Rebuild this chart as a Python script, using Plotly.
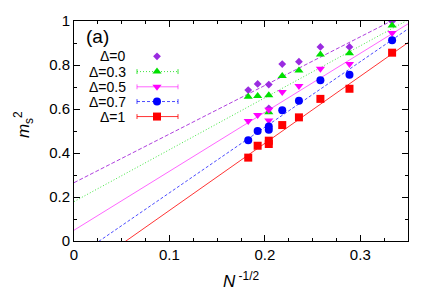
import plotly.graph_objects as go
import numpy as np

# ---- data ----
N_sizes = [30, 27, 24, 24, 21, 18, 15, 12, 9]
delta_labels = ["Δ=0", "Δ=0.3", "Δ=0.5", "Δ=0.7", "Δ=1"]
ms2_d0 = [0.686, 0.714, 0.711, 0.603, 0.804, 0.815, 0.882, 0.882, 0.999]
ms2_d03 = [0.656, 0.659, 0.662, 0.585, 0.750, 0.775, 0.848, 0.853, 0.979]
ms2_d05 = [0.545, 0.573, 0.548, 0.597, 0.677, 0.704, 0.783, 0.804, 0.945]
ms2_d07 = [0.458, 0.500, 0.521, 0.506, 0.594, 0.638, 0.731, 0.756, 0.912]
ms2_d1 = [0.379, 0.433, 0.456, 0.441, 0.527, 0.562, 0.646, 0.692, 0.856]
fit_intercepts = [0.265, 0.179, 0.049, -0.079, -0.166]
fit_slopes = [2.21, 2.36, 2.68, 2.98, 3.05]
x_ticks = [0, 0.1, 0.2, 0.3]
y_ticks = [0, 0.2, 0.4, 0.6, 0.8, 1]

series = [ms2_d0, ms2_d03, ms2_d05, ms2_d07, ms2_d1]
colors = ["#9a2be0", "#00e000", "#ff00ff", "#0000ff", "#ff0000"]
line_colors = ["rgba(148,0,211,0.75)", "rgba(0,220,0,0.75)", "rgba(255,0,255,0.6)",
               "rgba(0,0,255,0.7)", "rgba(255,0,0,0.8)"]
symbols = ["diamond", "triangle-up", "triangle-down", "circle", "square"]
msizes = [6, 8, 8, 8, 8]
dashes = ["4px,2px", "1px,2px", "solid", "3px,2px", "solid"]

xv = np.array(N_sizes, dtype=float) ** -0.5
xfit = np.array([0.0, 0.35])

FONT = "Liberation Sans, Arial, sans-serif"
fig = go.Figure()

for i in range(5):
    fig.add_trace(go.Scatter(
        x=xfit, y=fit_intercepts[i] + fit_slopes[i] * xfit, mode="lines",
        line=dict(color=line_colors[i], width=1, dash=dashes[i]),
        showlegend=False, hoverinfo="skip"))
for i in range(5):
    fig.add_trace(go.Scatter(
        x=xv, y=series[i], mode="markers",
        marker=dict(symbol=symbols[i], size=msizes[i], color=colors[i],
                    line=dict(width=0)),
        showlegend=False))

# ---- hand-made legend (text right-aligned, sample to the right) ----
L, R, T, B = 74, 408, 17, 241
W, H = R - L, B - T
def px(x): return (x - L) / W
def py(y): return (B - y) / H

row_y = [53, 68.5, 84, 99, 114.3]
shapes = []
annotations = []
for i in range(5):
    yy = py(row_y[i])
    annotations.append(dict(x=px(128), y=yy, xref="paper", yref="paper",
                            text=delta_labels[i], showarrow=False,
                            xanchor="right", yanchor="middle",
                            font=dict(family=FONT, size=14, color="black")))
    if i > 0:
        shapes.append(dict(type="line", xref="paper", yref="paper",
                           x0=px(137), x1=px(178), y0=yy, y1=yy,
                           line=dict(color=line_colors[i], width=1, dash=dashes[i])))
        for xc in (137, 178):
            shapes.append(dict(type="line", xref="paper", yref="paper",
                               x0=px(xc), x1=px(xc), y0=yy - 2.5 / H, y1=yy + 2.5 / H,
                               line=dict(color=line_colors[i], width=1)))
    fig.add_trace(go.Scatter(
        x=[px(157)], y=[yy], xaxis="x2", yaxis="y2", mode="markers",
        marker=dict(symbol=symbols[i], size=msizes[i], color=colors[i], line=dict(width=0)),
        showlegend=False, hoverinfo="skip"))

annotations.append(dict(x=px(84), y=py(33), xref="paper", yref="paper", text="(a)",
                        showarrow=False, xanchor="left", yanchor="middle",
                        font=dict(family=FONT, size=19, color="black")))
annotations.append(dict(x=px(241), y=(B - 281) / H, xref="paper", yref="paper",
                        text="<i>N</i><sup> -1/2</sup>", showarrow=False,
                        xanchor="center", yanchor="middle",
                        font=dict(family=FONT, size=17, color="black")))
annotations.append(dict(x=(23 - L) / W, y=py(123), xref="paper", yref="paper",
                        text="<i>m</i><sub>s</sub><sup>2</sup>", showarrow=False,
                        textangle=-90, xanchor="center", yanchor="middle",
                        font=dict(family=FONT, size=17, color="black")))

axis_common = dict(showgrid=False, zeroline=False, showline=True, linecolor="black",
                   linewidth=1, mirror="ticks", ticks="inside", ticklen=6,
                   tickcolor="black", tickwidth=1,
                   tickfont=dict(family=FONT, size=15, color="black"))

fig.update_layout(
    width=436, height=305,
    margin=dict(l=L, r=436 - R, t=T, b=305 - B),
    paper_bgcolor="white", plot_bgcolor="white",
    xaxis=dict(range=[0, 0.35], tickvals=x_ticks, ticktext=[str(v) for v in x_ticks],
               minor=dict(ticks="inside", ticklen=3, dtick=0.025, tick0=0, tickcolor="black"),
               **axis_common),
    yaxis=dict(range=[0, 1], tickvals=y_ticks, ticktext=[str(v) if v not in (0, 1) else str(int(v)) for v in y_ticks],
               minor=dict(ticks="inside", ticklen=3, dtick=0.1, tick0=0, tickcolor="black"),
               **axis_common),
    xaxis2=dict(range=[0, 1], overlaying="x", visible=False),
    yaxis2=dict(range=[0, 1], overlaying="y", visible=False),
    shapes=shapes, annotations=annotations, showlegend=False,
)
fig.write_html("out.html", config={"displayModeBar": False},
               post_script="document.body.style.margin='0';document.body.style.overflow='hidden';")
